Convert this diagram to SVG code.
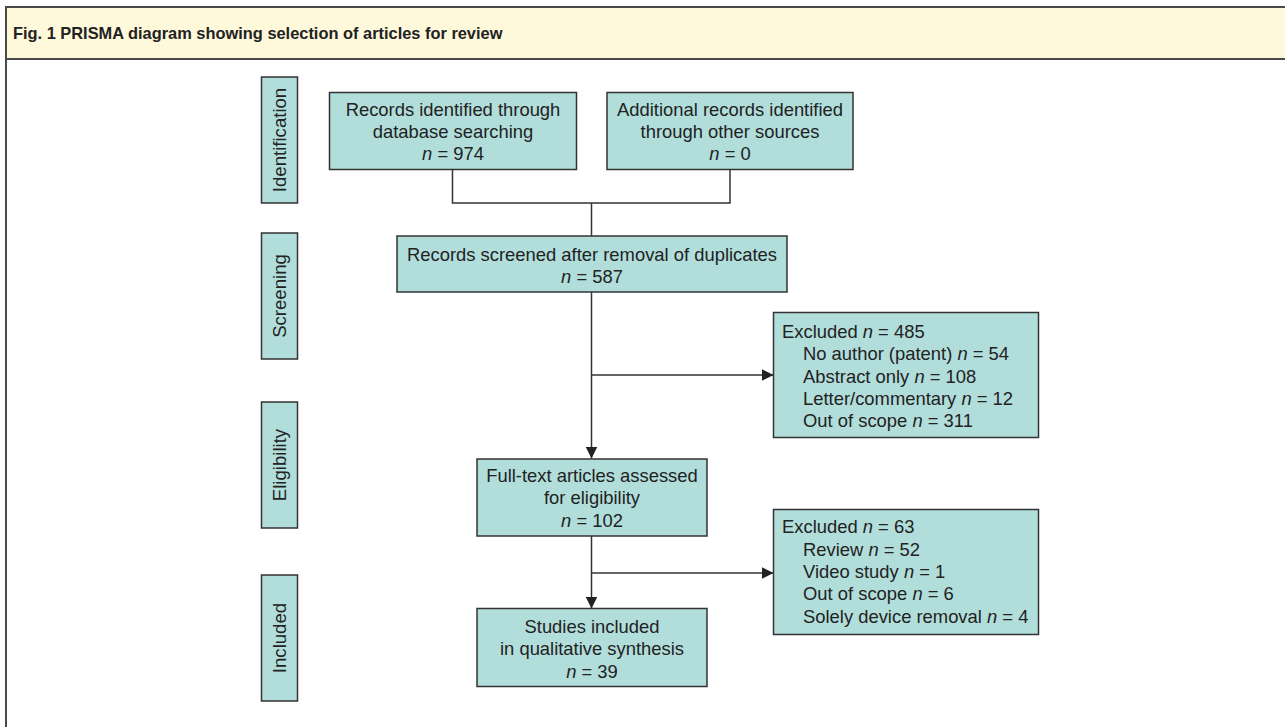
<svg xmlns="http://www.w3.org/2000/svg" width="1285" height="727" viewBox="0 0 1285 727">
<defs>
<style>
.frame{fill:#ffffff;stroke:#4a4a4a;stroke-width:2}
.hdr{fill:#fff9db;stroke:#4a4a4a;stroke-width:2}
.title{font-family:"Liberation Sans",Arial,sans-serif;font-weight:bold;font-size:16.4px;fill:#222}
.box{fill:#b1dedb;stroke:#333;stroke-width:1.5}
.t{font-family:"Liberation Sans",Arial,sans-serif;font-size:18.4px;fill:#222}
.c{text-anchor:middle}
.lab{font-family:"Liberation Sans",Arial,sans-serif;font-size:18.6px;fill:#222;text-anchor:middle}
.ln{fill:none;stroke:#333;stroke-width:1.5}
</style>
<marker id="arr" viewBox="0 0 12 12" markerWidth="12" markerHeight="12" refX="12" refY="6" orient="auto" markerUnits="userSpaceOnUse">
<path d="M0,0 L12,6 L0,12 Z" fill="#222"/>
</marker>
</defs>
<rect class="frame" x="6" y="7" width="1300" height="740"/>
<rect class="hdr" x="6" y="7" width="1300" height="52"/>
<text class="title" x="13" y="39">Fig. 1 PRISMA diagram showing selection of articles for review</text>

<g id="stage-identification">
<rect class="box" x="261.5" y="77" width="36" height="126"/>
<text class="lab" transform="translate(286,140) rotate(-90)">Identification</text>
</g>
<g id="stage-screening">
<rect class="box" x="261.5" y="233" width="36" height="126"/>
<text class="lab" transform="translate(286,296) rotate(-90)">Screening</text>
</g>
<g id="stage-eligibility">
<rect class="box" x="261.5" y="402" width="36" height="126"/>
<text class="lab" transform="translate(286,465) rotate(-90)">Eligibility</text>
</g>
<g id="stage-included">
<rect class="box" x="261.5" y="575" width="36" height="126"/>
<text class="lab" transform="translate(286,638) rotate(-90)">Included</text>
</g>

<g id="connectors">
<path class="ln" d="M452.5,169 V203 H730 V169"/>
<path class="ln" d="M591.5,203 V236"/>
<path class="ln" d="M591.5,292 V458.5" marker-end="url(#arr)"/>
<path class="ln" d="M591.5,375 H773.5" marker-end="url(#arr)"/>
<path class="ln" d="M591.5,536 V608.5" marker-end="url(#arr)"/>
<path class="ln" d="M591.5,573 H773.5" marker-end="url(#arr)"/>
</g>

<g id="records-database">
<rect class="box" x="329.5" y="92.5" width="247" height="77"/>
<text class="t c" x="453" y="115.5">Records identified through</text>
<text class="t c" x="453" y="137.5">database searching</text>
<text class="t c" x="453" y="159.5"><tspan font-style="italic">n</tspan> = 974</text>
</g>
<g id="records-other">
<rect class="box" x="607" y="92.5" width="246" height="77"/>
<text class="t c" x="730" y="115.5">Additional records identified</text>
<text class="t c" x="730" y="137.5">through other sources</text>
<text class="t c" x="730" y="159.5"><tspan font-style="italic">n</tspan> = 0</text>
</g>
<g id="records-screened">
<rect class="box" x="397" y="236" width="390" height="56"/>
<text class="t c" x="592" y="260.5">Records screened after removal of duplicates</text>
<text class="t c" x="592" y="282.5"><tspan font-style="italic">n</tspan> = 587</text>
</g>
<g id="excluded-1">
<rect class="box" x="773.5" y="312.5" width="265" height="125"/>
<text class="t" x="782" y="337.5">Excluded <tspan font-style="italic">n</tspan> = 485</text>
<text class="t" x="803" y="360">No author (patent) <tspan font-style="italic">n</tspan> = 54</text>
<text class="t" x="803" y="382.5">Abstract only <tspan font-style="italic">n</tspan> = 108</text>
<text class="t" x="803" y="404.5">Letter/commentary <tspan font-style="italic">n</tspan> = 12</text>
<text class="t" x="803" y="427">Out of scope <tspan font-style="italic">n</tspan> = 311</text>
</g>
<g id="full-text">
<rect class="box" x="477" y="459" width="230" height="77"/>
<text class="t c" x="592" y="482">Full-text articles assessed</text>
<text class="t c" x="592" y="504">for eligibility</text>
<text class="t c" x="592" y="526.5"><tspan font-style="italic">n</tspan> = 102</text>
</g>
<g id="excluded-2">
<rect class="box" x="773.5" y="509.5" width="265" height="125"/>
<text class="t" x="782" y="533">Excluded <tspan font-style="italic">n</tspan> = 63</text>
<text class="t" x="803" y="555.5">Review <tspan font-style="italic">n</tspan> = 52</text>
<text class="t" x="803" y="577.5">Video study <tspan font-style="italic">n</tspan> = 1</text>
<text class="t" x="803" y="600">Out of scope <tspan font-style="italic">n</tspan> = 6</text>
<text class="t" x="803" y="623">Solely device removal <tspan font-style="italic">n</tspan> = 4</text>
</g>
<g id="studies-included">
<rect class="box" x="477" y="608.5" width="230" height="78"/>
<text class="t c" x="592" y="633">Studies included</text>
<text class="t c" x="592" y="654.5">in qualitative synthesis</text>
<text class="t c" x="592" y="677.5"><tspan font-style="italic">n</tspan> = 39</text>
</g>
</svg>
